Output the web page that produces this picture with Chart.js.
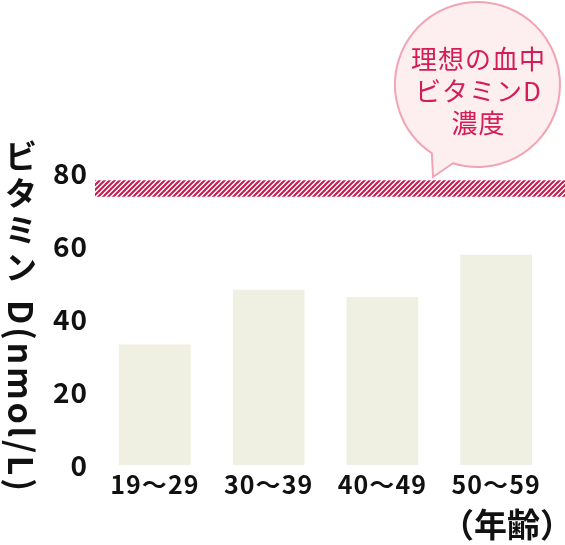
<!DOCTYPE html>
<html>
<head>
<meta charset="utf-8">
<script src="https://cdn.jsdelivr.net/npm/chart.js@4"></script>
<style>
  html, body { margin: 0; padding: 0; background: #fff; }
  #wrap { width: 565px; height: 545px; position: relative; }
</style>
</head>
<body>
<div id="wrap"><canvas id="chart"></canvas></div>
<script>
(function () {
    'use strict';

    // data
    const ageGroups = ['19〜29', '30〜39', '40〜49', '50〜59'];
    const vitaminD = [33, 48, 46, 57.6];
    const yTicks = [0, 20, 40, 60, 80];
    const idealRange = [73.5, 78];
    const bubbleLines = ['理想の血中', 'ビタミンD', '濃度'];
    const yTitleKana = ['ビ', 'タ', 'ミ', 'ン'];
    const yTitleLatin = 'D(nmol/L)';
    const xTitle = '（年齢）';

    const JP = '"Noto Sans CJK JP", "Noto Sans", sans-serif';

    // striped fill for the ideal band
    function stripes() {
        const c = document.createElement('canvas');
        c.width = 5; c.height = 5;
        const g = c.getContext('2d');
        g.strokeStyle = '#c8174b';
        g.lineWidth = 2;
        g.beginPath();
        g.moveTo(0, 5); g.lineTo(5, 0);
        g.moveTo(-1, 1); g.lineTo(1, -1);
        g.moveTo(4, 6); g.lineTo(6, 4);
        g.stroke();
        return c;
    }

    const extras = {
        id: 'extras',
        beforeDraw(chart) {
            chart.ctx.letterSpacing = '1px';
        },
        beforeDatasetsDraw(chart) {
            const { ctx, chartArea, scales: { y } } = chart;
            const top = y.getPixelForValue(idealRange[1]);
            const bottom = y.getPixelForValue(idealRange[0]);
            ctx.save();
            ctx.fillStyle = ctx.createPattern(stripes(), 'repeat');
            ctx.fillRect(chartArea.left - 3, top, chart.width - chartArea.left + 3, bottom - top);
            ctx.restore();
        },
        afterDraw(chart) {
            const ctx = chart.ctx;
            ctx.save();
            ctx.letterSpacing = '0px';

            // speech bubble
            const cx = 477.5, cy = 84.5, r = 82.5;
            const a1 = Math.atan2(153 - cy, 432 - cx);
            const a2 = Math.atan2(163 - cy, 453 - cx);
            ctx.beginPath();
            ctx.moveTo(cx + r * Math.cos(a1), cy + r * Math.sin(a1));
            ctx.lineTo(433, 177);
            ctx.lineTo(cx + r * Math.cos(a2), cy + r * Math.sin(a2));
            ctx.arc(cx, cy, r, a2, a1 - Math.PI * 2, true);
            ctx.closePath();
            ctx.fillStyle = '#fdeef0';
            ctx.fill();
            ctx.strokeStyle = '#f1a5b4';
            ctx.lineWidth = 2;
            ctx.stroke();

            ctx.fillStyle = '#d41c55';
            ctx.font = '26px ' + JP;
            ctx.letterSpacing = '1px';
            ctx.textAlign = 'center';
            ctx.textBaseline = 'middle';
            bubbleLines.forEach(function (line, i) {
                ctx.fillText(line, cx + 1, 59 + i * 32);
            });

            // vertical y-axis title
            ctx.fillStyle = '#111';
            ctx.font = 'bold 32px ' + JP;
            ctx.letterSpacing = '0px';
            yTitleKana.forEach(function (ch, i) {
                ctx.fillText(ch, 21, 156 + i * 37);
            });
            ctx.font = 'bold 34px ' + JP;
            const start = 300, end = 491;
            const n = yTitleLatin.length;
            const w = ctx.measureText(yTitleLatin).width;
            const spacing = (end - start - w) / (n - 1);
            ctx.translate(21, start);
            ctx.rotate(Math.PI / 2);
            ctx.textAlign = 'left';
            ctx.letterSpacing = spacing + 'px';
            ctx.fillText(yTitleLatin, 0, 0);
            ctx.restore();

            // x-axis title
            ctx.save();
            ctx.letterSpacing = '0px';
            ctx.fillStyle = '#111';
            ctx.font = 'bold 33px ' + JP;
            ctx.textAlign = 'right';
            ctx.textBaseline = 'middle';
            ctx.fillText(xTitle, 573, 524);
            ctx.restore();
            ctx.letterSpacing = '0px';
        }
    };

    new Chart(document.getElementById('chart'), {
        type: 'bar',
        data: {
            labels: ageGroups,
            datasets: [{
                data: vitaminD,
                backgroundColor: '#efefe2',
                borderWidth: 0,
                categoryPercentage: 1,
                barPercentage: 0.63
            }]
        },
        options: {
            responsive: true,
            maintainAspectRatio: false,
            animation: false,
            layout: { padding: { top: 173, right: 12, left: 0, bottom: 0 } },
            plugins: { legend: { display: false }, tooltip: { enabled: false } },
            scales: {
                x: {
                    grid: { display: false, drawTicks: false },
                    border: { display: false },
                    ticks: {
                        color: '#111',
                        padding: 4,
                        font: { family: JP, size: 25, weight: 'bold' }
                    },
                    afterFit(scale) { scale.height = 80; }
                },
                y: {
                    min: 0,
                    max: 80,
                    grid: { display: false, drawTicks: false },
                    border: { display: false },
                    afterBuildTicks(scale) {
                        scale.ticks = yTicks.map(function (v) { return { value: v }; });
                    },
                    ticks: {
                        color: '#111',
                        padding: 10,
                        font: { family: JP, size: 28, weight: 'bold' }
                    },
                    afterFit(scale) { scale.width = 98; }
                }
            }
        },
        plugins: [extras]
    });
})();
</script>
</body>
</html>
